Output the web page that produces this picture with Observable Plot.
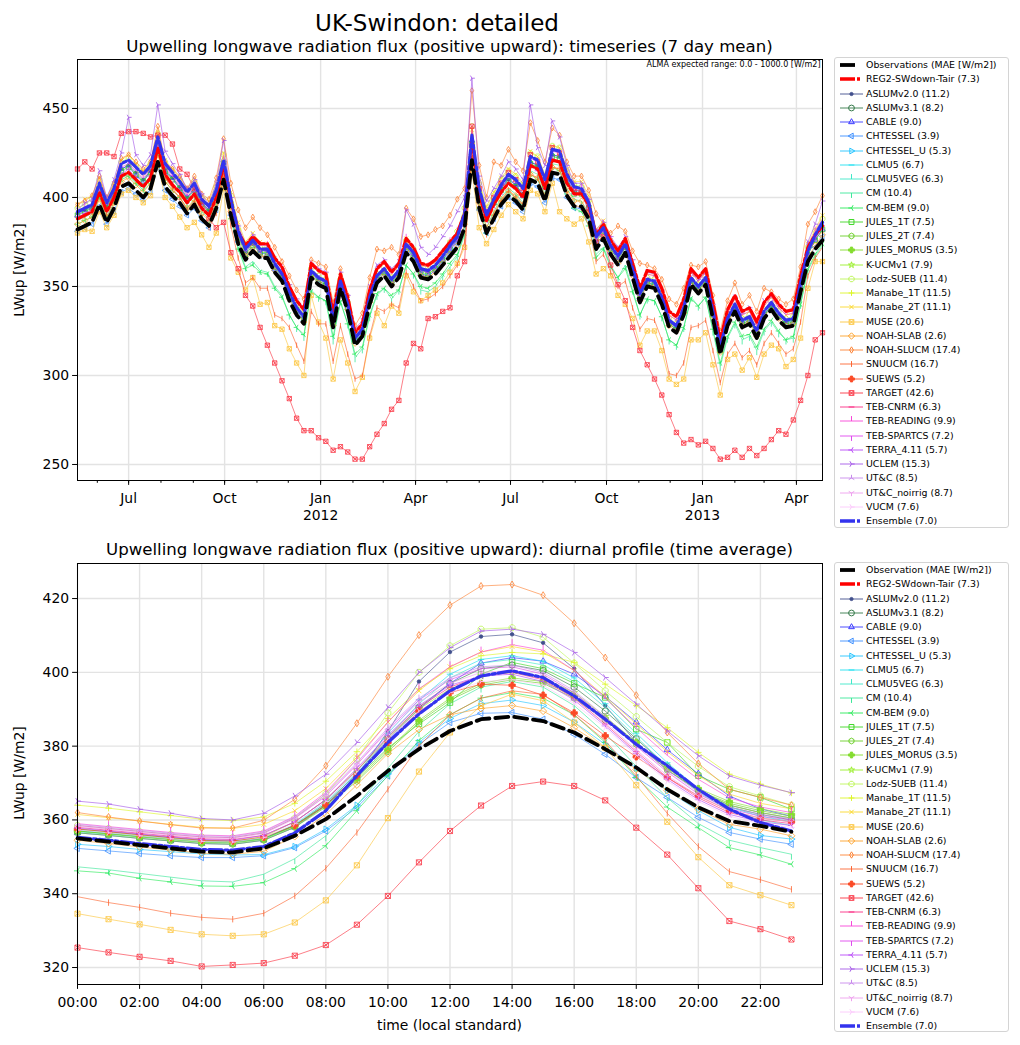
<!DOCTYPE html>
<html><head><meta charset="utf-8">
<script src="https://cdn.jsdelivr.net/npm/d3@7"></script>
<script src="https://cdn.jsdelivr.net/npm/@observablehq/plot@0.6"></script>
<style>
body{margin:0;background:#fff;font-family:"DejaVu Sans",sans-serif;}
#wrap{position:relative;width:1020px;height:1045px;overflow:hidden;background:#fff;}
.abs{position:absolute;white-space:nowrap;color:#000;}
.legend{position:absolute;border:1px solid #d4d4d4;border-radius:3px;background:#fff;box-sizing:border-box;}
.row{position:absolute;left:0;height:14px;width:172px;}
.row span{position:absolute;left:31px;top:0;font-size:9.4px;line-height:14px;white-space:nowrap;color:#000;}
.row svg{position:absolute;left:3px;top:0;}
</style></head><body><div id="wrap"></div>
<script>
// ---------------- names, MAE, styles ----------------
const modelNames = ["ASLUMv2.0","ASLUMv3.1","CABLE","CHTESSEL","CHTESSEL_U","CLMU5","CLMU5VEG","CM","CM-BEM","JULES_1T","JULES_2T","JULES_MORUS","K-UCMv1","Lodz-SUEB","Manabe_1T","Manabe_2T","MUSE","NOAH-SLAB","NOAH-SLUCM","SNUUCM","SUEWS","TARGET","TEB-CNRM","TEB-READING","TEB-SPARTCS","TERRA_4.11","UCLEM","UT&C","UT&C_noirrig","VUCM"];
const modelMAE = [11.2,8.2,9.0,3.9,5.3,6.7,6.3,10.4,9.0,7.5,7.4,3.5,7.9,11.4,11.5,11.1,20.6,2.6,17.4,16.7,5.2,42.6,6.3,9.9,7.2,5.7,15.3,8.5,8.7,7.6];
const modelColors = ["#414f8c","#357a4a","#3a3aff","#3d8fff","#24c4ff","#22e0f0","#3fe8c8","#3de89a","#2aea5a","#3ed625","#6ccf28","#84dc2e","#9aef2a","#bdf55a","#dcf52a","#fbd82b","#fcc640","#fda22a","#fd8335","#fc6633","#fb4a26","#fa3544","#fb2c84","#f845d8","#e048ee","#b94af8","#a55ae8","#c88aec","#eea0ee","#fcc8fc"];
const modelMarkers = ["point","circle","triUp","triLeft","triRight","hline","tickUp","tickDown","spokeLeft","square","hexagon","plusFilled","star","octagon","plus","xcross","boxX","diamond","thinDiamond","vline","plusFilled","boxX","hline","tickUp","tickDown","spokeLeft","spokeRight","spokeUp","spokeDown","spokeRight"];
const reg2Label = "REG2-SWdown-Tair", reg2MAE = 7.3, ensMAE = 7.0;

// ---------------- timeseries (7-day means), weekly from 2011-05-13 ----------------
const obsTS = [382,384,386,396,386,394,406,408,404,400,405,420,406,401,397,391,396,388,384,394,410,390,374,365,370,366,366,358,353,342,334,329,355,351,349,327,349,336,317,322,340,352,356,350,355,369,364,355,354,357,362,367,372,383,421,394,380,388,396,401,398,393,410,408,398,414,413,401,395,395,388,371,377,368,362,369,355,341,350,349,340,327,324,334,351,346,351,332,312,328,336,327,329,321,332,337,331,327,328,347,364,371,376];
const reg2TS = [388,390,392,403,392,400,412,414,410,406,411,428,413,407,403,397,402,394,390,400,418,398,381,373,378,374,374,366,361,350,342,337,363,359,357,335,357,344,324,329,348,360,364,358,363,377,372,363,362,365,370,375,380,391,432,402,387,396,403,408,405,400,418,416,405,421,420,408,402,402,396,379,385,376,370,377,363,349,359,358,349,336,333,343,360,355,360,341,320,337,345,336,338,330,341,346,340,336,337,356,372,379,384];
const ensTS = [392,394,396,408,397,405,419,421,417,413,418,434,419,414,409,403,408,399,395,404,421,399,381,371,376,371,371,363,357,347,338,333,359,355,353,331,353,340,321,326,344,356,360,354,359,374,369,360,359,362,367,373,378,391,435,405,390,399,407,413,410,405,423,421,410,427,426,413,406,405,397,378,383,373,367,374,360,346,354,353,344,331,328,338,355,350,355,336,316,332,340,331,333,325,336,341,335,331,332,352,370,379,386];
const tsTARGET = [416,420,416,425,425,423,436,437,437,436,434,435,435,430,416,413,405,398,388,383,386,369,360,345,339,327,317,307,297,287,276,269,269,265,263,258,260,257,253,253,260,267,273,281,286,307,318,315,332,333,336,338,356,364,440,405,392,400,408,414,410,405,424,420,410,428,425,412,405,403,392,375,378,362,351,342,327,314,306,298,289,278,268,262,264,261,263,259,253,254,258,254,259,255,259,264,269,267,275,286,300,320,324];
const tsMUSE = [380,382,381,392,383,390,402,404,400,397,401,418,400,395,389,383,386,379,372,380,405,366,358,348,355,340,341,328,326,315,307,300,345,330,321,298,320,307,291,299,321,335,328,339,335,356,347,342,345,348,352,358,363,372,415,383,374,382,390,396,392,388,404,402,392,408,392,388,385,388,375,357,360,356,345,340,332,317,325,325,314,298,295,298,320,320,324,306,289,309,312,303,310,299,312,317,315,305,309,321,349,364,364];
const tsNOAHSLUCM = [396,398,401,412,400,408,422,424,420,416,420,440,420,416,412,405,412,402,399,411,433,408,393,383,389,383,379,372,364,356,348,343,365,363,361,341,360,345,328,335,355,371,370,372,368,394,388,378,379,382,384,390,399,405,460,418,400,420,418,427,420,415,442,432,420,439,435,420,412,412,404,391,385,380,384,381,370,363,362,360,354,343,340,349,362,361,364,345,325,342,352,340,345,336,349,347,343,340,343,361,385,392,401];
const tsUCLEM = [393,397,399,415,400,410,425,445,424,418,424,452,426,419,413,405,410,402,396,408,432,400,384,374,379,374,373,365,360,351,343,338,363,360,358,336,358,345,326,331,350,362,365,360,364,393,385,372,368,372,378,384,392,400,467,412,398,405,412,420,416,410,452,428,418,443,434,418,408,408,399,382,386,378,372,378,365,350,358,357,348,336,332,342,358,354,358,340,320,336,344,335,338,330,342,345,340,336,337,354,375,385,398];
const tsSNUUCM = [388,390,392,404,391,399,412,415,411,406,410,428,411,405,400,393,398,389,383,391,412,384,366,352,355,349,349,334,332,327,317,308,336,329,329,308,328,312,298,300,322,338,336,340,338,358,350,342,343,346,350,356,362,375,425,392,379,390,398,404,400,396,413,411,400,417,416,403,396,394,384,364,368,358,350,353,338,326,332,331,320,301,300,307,327,328,331,314,296,312,318,310,314,306,318,324,318,312,315,330,356,366,372];
const tsCMBEM = [385,387,389,400,389,397,410,412,408,404,408,425,409,404,400,394,398,389,385,394,412,388,371,360,362,358,357,349,344,334,327,323,347,344,342,322,341,329,312,316,334,346,349,345,348,362,357,350,349,352,357,363,368,380,422,394,380,390,398,403,400,395,413,410,400,417,415,402,394,392,384,366,371,361,355,360,347,334,343,342,333,320,317,327,343,339,344,326,307,322,330,322,323,316,326,331,325,320,322,340,360,368,374];
const tsCHTESSEL = [381,383,385,395,385,392,403,405,402,399,403,417,404,399,395,390,394,387,383,393,408,390,375,366,371,367,367,359,354,344,336,331,356,352,350,329,350,338,319,324,342,353,357,352,356,370,365,357,356,359,364,369,374,384,418,393,380,388,395,400,397,392,408,406,397,411,410,400,394,394,388,372,378,369,363,370,357,343,352,351,342,330,327,336,353,348,353,335,315,331,338,330,332,324,334,339,334,330,331,349,366,372,378];
const tsJULES1T = [390,392,394,405,394,402,415,417,413,409,414,430,415,410,405,399,404,396,392,402,419,396,378,368,373,369,369,361,355,345,337,332,357,353,351,330,351,338,320,325,342,354,358,352,357,372,367,358,357,360,365,371,377,389,430,402,388,397,404,409,406,401,419,417,406,423,422,409,402,402,394,375,381,371,365,372,358,344,352,351,342,329,326,336,353,348,353,334,314,330,338,329,331,323,334,339,333,329,330,350,368,376,382];
const tsLodz = [394,396,399,410,399,407,420,422,418,414,419,436,420,415,410,404,409,400,396,406,424,401,382,372,377,372,372,364,358,348,340,335,360,356,354,333,354,341,322,327,345,357,361,355,360,376,371,362,361,364,369,375,381,394,440,408,393,402,410,415,412,407,425,423,412,429,428,415,407,406,398,378,384,374,368,375,361,347,355,354,345,332,329,339,356,351,356,337,317,333,341,332,334,326,337,342,336,332,333,353,372,381,388];
const tsTEBREADING = [392,394,396,407,396,404,417,419,415,411,416,432,417,412,407,401,406,398,394,404,421,399,382,372,377,373,373,365,360,349,341,336,362,358,356,334,356,343,324,329,347,359,363,357,362,377,371,362,361,364,369,375,381,393,435,405,391,399,407,412,409,404,422,420,409,426,425,412,405,405,397,379,385,376,369,376,362,348,357,356,347,334,331,341,358,353,358,339,319,335,343,334,336,328,339,344,338,334,335,355,373,381,388];
const tsASLUMv20 = [391,393,395,406,395,403,416,418,414,410,415,431,416,411,406,400,405,397,393,403,420,397,379,369,374,370,370,362,356,346,338,333,358,354,352,331,352,339,321,326,343,355,359,353,358,373,368,359,358,361,366,372,378,390,432,403,389,398,405,410,407,402,420,418,407,424,423,410,403,403,395,376,382,372,366,373,359,345,353,352,343,330,327,337,354,349,354,335,315,331,339,330,332,324,334,339,334,330,331,351,369,377,384];
const tsCABLE = [390,393,394,406,395,402,416,418,412,409,415,431,414,411,405,400,404,397,392,404,421,398,380,370,374,369,368,360,355,344,336,331,358,353,351,329,352,338,319,324,342,354,358,353,357,372,366,357,356,359,365,370,376,389,432,403,388,397,405,411,407,401,420,418,407,424,423,410,404,404,396,376,382,371,365,372,357,343,352,351,342,329,326,336,353,348,354,334,314,330,338,329,331,323,334,339,333,329,330,350,368,376,382];
const tsManabe2T = [396,399,401,411,400,408,421,424,419,415,420,437,421,416,411,405,410,401,398,408,425,403,386,375,380,375,374,366,360,350,341,336,362,358,356,334,356,343,324,329,347,359,363,357,362,377,371,362,361,364,369,375,381,394,438,409,395,403,411,416,413,408,426,423,413,429,428,416,409,409,401,382,387,376,370,376,362,348,357,356,347,334,331,341,358,353,358,339,319,335,343,334,336,328,339,344,338,334,335,355,374,382,390];
const tsNOAHSLAB = [385,387,389,399,389,397,409,411,407,403,408,424,409,404,400,394,399,391,387,397,413,392,376,367,372,367,367,359,354,343,335,330,356,352,350,328,350,337,318,323,341,353,357,351,356,370,365,356,355,358,363,368,373,385,424,397,383,391,399,404,401,396,413,411,401,417,416,404,398,398,391,373,379,370,363,370,356,342,351,350,341,328,325,335,352,347,352,333,313,329,337,328,330,322,333,338,332,328,329,348,366,373,379];
const tsTERRA = [389,391,393,404,393,401,413,416,411,407,412,429,413,408,404,398,403,395,391,401,418,396,379,370,375,370,370,362,357,346,338,333,359,355,353,331,353,340,321,326,344,356,360,354,359,373,368,359,358,361,366,371,376,388,430,401,387,395,403,408,405,400,418,415,405,422,420,408,402,402,394,376,381,372,366,373,359,345,354,353,344,331,328,338,355,350,355,336,316,332,340,331,333,325,336,341,335,331,332,351,369,377,383];
const tsCM = [387,389,391,401,391,399,411,413,409,405,410,426,411,406,402,396,401,392,388,397,414,390,372,361,364,359,358,350,345,334,327,322,348,344,342,320,342,329,310,315,333,345,349,343,348,362,357,348,347,350,356,361,367,379,424,397,383,392,400,405,402,397,415,413,402,419,418,405,399,398,390,368,372,362,355,362,348,334,343,342,333,320,317,327,344,339,344,325,305,321,329,320,322,314,325,330,324,320,321,340,359,367,373];

// ---------------- diurnal profile (hours 0..23) ----------------
const hours = [0,1,2,3,4,5,6,7,8,9,10,11,12,13,14,15,16,17,18,19,20,21,22,23];
const dObs = [355.0,354.1,353.2,352.3,351.4,351.2,352.3,355.7,360.2,366.5,373.3,379.2,384.1,387.3,388.0,386.8,383.7,379.2,374.2,368.3,363.4,359.7,358.4,356.8];
const dEns = [355.3,354.5,353.6,352.8,352.0,351.8,352.8,356.5,362.5,372.0,381.0,388.7,395.0,399.0,400.4,398.6,393.6,387.3,380.5,374.7,368.3,362.9,359.3,357.0];
const dASLUMv20 = [357.5,356.8,356.0,355.2,354.5,354.2,355.0,358.5,364.0,372.0,384.0,397.5,405.5,409.7,410.3,408.0,401.0,391.0,381.0,373.5,368.0,364.0,362.0,360.5];
const dASLUMv31 = [357.0,356.3,355.6,354.9,354.2,354.0,355.0,358.5,364.5,372.5,382.0,390.5,397.0,401.0,402.0,400.5,396.0,389.5,382.0,374.5,368.0,363.5,361.5,360.0];
const dCABLE = [356.5,355.8,355.0,354.3,353.6,353.4,354.5,358.0,364.0,372.0,381.5,390.0,397.0,402.5,404.0,403.0,399.5,393.5,386.5,379.0,372.5,366.5,363.0,361.0];
const dCHTESSEL = [352.3,351.6,350.9,350.3,349.8,349.8,350.3,352.5,357.0,363.4,371.9,380.5,386.4,388.9,389.1,387.3,383.2,377.8,371.5,366.1,360.7,356.6,354.8,353.4];
const dCHTESSELU = [353.4,352.8,352.0,351.4,350.8,350.5,350.6,352.8,357.5,364.0,372.5,381.0,387.5,391.5,392.5,391.0,386.5,380.5,374.0,368.0,362.5,358.0,355.8,354.8];
const dCLMU5 = [357.2,356.5,355.8,355.1,354.4,354.2,355.0,358.8,365.0,373.0,383.5,392.5,399.5,403.5,404.5,403.0,398.5,391.5,383.5,375.5,368.5,363.5,361.0,359.5];
const dCLMU5VEG = [356.8,356.1,355.4,354.7,354.0,353.8,354.8,358.5,364.5,372.5,382.5,391.5,398.5,402.5,403.5,402.0,397.5,390.5,382.5,374.5,367.5,362.5,360.0,358.5];
const dCM = [347.3,346.5,345.5,344.5,343.5,343.2,345.3,349.5,355.7,364.0,374.0,384.0,391.5,396.0,397.5,396.0,391.0,383.5,374.5,366.0,359.0,354.5,352.5,350.7];
const dCMBEM = [346.2,345.6,344.2,343.2,342.1,342.0,343.0,346.8,353.0,362.5,372.0,381.5,388.5,393.0,394.5,393.0,388.5,381.0,371.5,363.5,357.9,352.5,350.5,348.0];
const dJULES1T = [357.0,356.3,355.5,354.8,354.1,353.9,355.0,358.5,364.0,371.5,379.5,386.0,391.8,399.5,402.7,401.0,397.0,393.2,384.6,381.0,372.0,368.3,366.1,362.9];
const dJULES2T = [356.5,355.8,355.0,354.3,353.6,353.4,354.5,358.0,363.5,370.5,378.5,386.5,392.5,396.5,398.0,397.0,393.0,387.0,380.5,373.5,368.0,364.5,362.5,361.0];
const dJULESMORUS = [357.0,356.2,355.4,354.6,353.9,353.7,354.8,358.2,363.8,371.0,379.0,387.0,393.0,397.0,398.5,397.5,393.5,387.5,381.0,374.0,368.5,365.0,363.0,361.5];
const dKUCMv1 = [357.5,356.7,355.9,355.1,354.4,354.2,355.5,359.5,365.5,373.5,382.0,390.0,395.5,399.0,400.0,398.5,394.5,388.0,381.0,374.0,368.0,364.0,362.0,360.5];
const dLodz = [358.5,357.7,356.9,356.1,355.4,355.2,356.5,360.5,367.0,376.5,389.0,400.0,407.2,411.7,412.1,409.5,402.5,395.0,388.0,381.0,374.5,369.0,366.5,364.0];
const dManabe1T = [364.0,363.2,362.2,361.2,360.2,359.8,360.8,364.5,370.5,378.5,387.5,395.5,401.0,404.5,405.4,405.0,402.7,396.8,391.0,385.0,378.3,372.4,369.7,367.3];
const dManabe2T = [361.5,360.6,359.7,358.8,358.0,357.7,358.8,362.5,368.5,377.0,386.5,395.0,401.5,405.5,407.0,405.5,400.5,393.5,386.0,378.5,372.0,367.0,364.5,363.0];
const dMUSE = [334.6,333.1,331.7,330.2,329.0,328.6,329.0,332.2,338.2,347.7,360.5,373.1,383.7,390.9,394.1,392.3,386.4,379.6,369.4,359.5,349.9,342.3,339.6,336.9];
const dNOAHSLAB = [354.5,353.6,352.7,351.8,351.0,350.7,351.5,355.5,361.5,369.5,378.0,384.5,388.5,390.2,391.0,389.5,385.0,379.5,373.7,368.0,362.9,358.8,357.5,355.7];
const dNOAHSLUCM = [362.0,360.8,359.7,358.7,357.8,357.8,359.9,365.6,374.7,386.2,398.8,410.1,418.2,423.4,423.8,420.9,413.3,404.0,393.8,383.7,375.3,368.3,366.1,364.0];
const dSNUUCM = [339.2,337.6,336.3,334.7,333.6,333.1,334.7,339.4,346.9,356.6,368.3,380.0,388.5,393.0,395.0,394.0,388.5,381.5,371.9,361.8,352.8,346.0,343.8,341.2];
const dSUEWS = [357.5,356.8,356.0,355.2,354.5,354.3,355.3,358.5,364.0,372.0,381.0,389.5,394.5,396.8,396.5,393.8,389.0,382.8,377.1,371.5,366.5,362.5,360.5,359.5];
const dTARGET = [325.4,324.1,322.9,321.8,320.3,320.7,321.2,323.2,326.1,331.6,339.4,348.5,357.0,363.9,369.2,370.4,369.2,365.3,357.9,350.6,341.5,332.6,330.4,327.6];
const dTEBCNRM = [358.0,357.2,356.4,355.6,354.9,354.7,355.8,359.5,365.5,373.5,382.5,390.5,396.0,399.0,400.0,398.0,393.0,386.0,378.5,371.5,366.0,362.0,360.0,359.0];
const dTEBREADING = [359.0,358.2,357.4,356.6,355.9,355.7,357.0,361.0,367.5,376.5,386.5,395.5,401.5,405.5,407.5,406.0,400.5,393.0,385.0,377.5,371.0,366.0,363.5,362.0];
const dTEBSPARTCS = [358.5,357.7,356.9,356.1,355.4,355.2,356.5,360.5,366.5,375.0,384.5,392.5,398.0,401.0,401.5,399.5,394.5,387.5,380.0,373.0,367.0,363.0,361.0,360.0];
const dTERRA = [357.8,357.0,356.2,355.4,354.7,354.5,355.8,359.5,365.5,374.0,383.0,391.0,396.5,399.0,399.5,397.5,392.5,385.5,378.0,371.0,365.5,361.5,359.5,358.5];
const dUCLEM = [365.1,364.3,362.9,361.8,360.4,360.0,361.8,366.5,372.4,381.0,390.5,400.0,406.7,411.2,411.7,410.3,405.4,398.6,391.4,384.1,377.4,371.9,369.4,367.4];
const dUTC = [358.8,358.0,357.2,356.4,355.7,355.5,356.8,360.8,367.0,375.5,385.0,393.0,398.5,401.5,402.0,400.0,395.0,388.0,380.5,373.5,367.5,363.5,361.5,360.3];
const dUTCnoirrig = [358.3,357.5,356.7,355.9,355.2,355.0,356.3,360.3,366.5,375.0,384.0,392.0,397.0,400.0,400.5,398.5,393.5,386.5,379.0,372.0,366.5,362.5,360.5,359.5];
const dVUCM = [357.3,356.5,355.7,354.9,354.2,354.0,355.2,359.0,365.0,373.0,382.0,389.5,394.5,397.5,398.0,396.5,391.5,385.0,377.5,370.5,365.0,361.0,359.0,358.0];

// ---------------- tick labels ----------------
const monthTickLabels = ["Jul","Oct","Jan","Apr","Jul","Oct","Jan","Apr"];
const yearTickLabels = ["2012","2013"];
const yTicksTop = [250,300,350,400,450];
const yTicksBottom = [320,340,360,380,400,420];
const hourTicks = [0,2,4,6,8,10,12,14,16,18,20,22];

// ---------------- lookups built from the arrays ----------------
const topModelData = {"ASLUMv2.0":tsASLUMv20,"CABLE":tsCABLE,"CHTESSEL":tsCHTESSEL,"CM":tsCM,"CM-BEM":tsCMBEM,"JULES_1T":tsJULES1T,"Lodz-SUEB":tsLodz,"Manabe_2T":tsManabe2T,"MUSE":tsMUSE,"NOAH-SLAB":tsNOAHSLAB,"NOAH-SLUCM":tsNOAHSLUCM,"SNUUCM":tsSNUUCM,"TARGET":tsTARGET,"TEB-READING":tsTEBREADING,"TERRA_4.11":tsTERRA,"UCLEM":tsUCLEM};
const diurnalModelData = [dASLUMv20,dASLUMv31,dCABLE,dCHTESSEL,dCHTESSELU,dCLMU5,dCLMU5VEG,dCM,dCMBEM,dJULES1T,dJULES2T,dJULESMORUS,dKUCMv1,dLodz,dManabe1T,dManabe2T,dMUSE,dNOAHSLAB,dNOAHSLUCM,dSNUUCM,dSUEWS,dTARGET,dTEBCNRM,dTEBREADING,dTEBSPARTCS,dTERRA,dUCLEM,dUTC,dUTCnoirrig,dVUCM];

const DAY = 86400000, START = Date.UTC(2011,4,13);
const weekDates = obsTS.map((_, i) => new Date(START + 7*i*DAY));
const majorTicks = [[2011,6],[2011,9],[2012,0],[2012,3],[2012,6],[2012,9],[2013,0],[2013,3]].map(([y,m]) => new Date(Date.UTC(y,m,1)));
const yearTicks = [new Date(Date.UTC(2012,0,1)), new Date(Date.UTC(2013,0,1))];
const minorTicks = [];
for (let y = 2011, m = 5; y < 2013 || m <= 3; ) { minorTicks.push(new Date(Date.UTC(y,m,1))); m++; if (m > 11) { m = 0; y++; } }

// ---------------- marker symbols ----------------
function mk(fn){ return {draw(c, size){ fn(c, Math.sqrt(size/Math.PI)); }}; }
function poly(c, n, r, rot){ for (let k=0;k<n;k++){ const a=rot+2*Math.PI*k/n, x=r*Math.cos(a), y=r*Math.sin(a); if(k===0) c.moveTo(x,y); else c.lineTo(x,y);} c.closePath(); }
function spokes(c, r, rot){ for (let k=0;k<3;k++){ const a=rot+2*Math.PI*k/3; c.moveTo(0,0); c.lineTo(r*Math.cos(a), r*Math.sin(a)); } }
const SYM = {
  point: mk((c,r)=>{const q=r*0.55; c.moveTo(q,0); c.arc(0,0,q,0,2*Math.PI);}),
  circle: mk((c,r)=>{c.moveTo(r,0); c.arc(0,0,r,0,2*Math.PI);}),
  triUp: mk((c,r)=>poly(c,3,r*1.15,-Math.PI/2)),
  triLeft: mk((c,r)=>poly(c,3,r*1.15,Math.PI)),
  triRight: mk((c,r)=>poly(c,3,r*1.15,0)),
  hline: mk((c,r)=>{c.moveTo(-r,0); c.lineTo(r,0);}),
  vline: mk((c,r)=>{c.moveTo(0,-r); c.lineTo(0,r);}),
  tickUp: mk((c,r)=>{c.moveTo(0,0); c.lineTo(0,-1.7*r);}),
  tickDown: mk((c,r)=>{c.moveTo(0,0); c.lineTo(0,1.7*r);}),
  square: mk((c,r)=>{const s=r*0.85; c.rect(-s,-s,2*s,2*s);}),
  hexagon: mk((c,r)=>poly(c,6,r,-Math.PI/2)),
  plusFilled: mk((c,r)=>{const a=r, b=r*0.38; c.moveTo(-b,-a);c.lineTo(b,-a);c.lineTo(b,-b);c.lineTo(a,-b);c.lineTo(a,b);c.lineTo(b,b);c.lineTo(b,a);c.lineTo(-b,a);c.lineTo(-b,b);c.lineTo(-a,b);c.lineTo(-a,-b);c.lineTo(-b,-b);c.closePath();}),
  star: mk((c,r)=>{for(let k=0;k<10;k++){const a=-Math.PI/2+Math.PI*k/5, rr=k%2?r*0.42:r*1.1, x=rr*Math.cos(a), y=rr*Math.sin(a); if(k) c.lineTo(x,y); else c.moveTo(x,y);} c.closePath();}),
  octagon: mk((c,r)=>poly(c,8,r,Math.PI/8)),
  plus: mk((c,r)=>{c.moveTo(-r,0);c.lineTo(r,0);c.moveTo(0,-r);c.lineTo(0,r);}),
  xcross: mk((c,r)=>{const q=r*0.75; c.moveTo(-q,-q);c.lineTo(q,q);c.moveTo(-q,q);c.lineTo(q,-q);}),
  boxX: mk((c,r)=>{const s=r*0.8; c.rect(-s,-s,2*s,2*s); c.moveTo(-s,-s);c.lineTo(s,s);c.moveTo(-s,s);c.lineTo(s,-s);}),
  diamond: mk((c,r)=>{const s=r*1.1; c.moveTo(0,-s);c.lineTo(s,0);c.lineTo(0,s);c.lineTo(-s,0);c.closePath();}),
  thinDiamond: mk((c,r)=>{const s=r*1.1; c.moveTo(0,-s);c.lineTo(s*0.6,0);c.lineTo(0,s);c.lineTo(-s*0.6,0);c.closePath();}),
  spokeLeft: mk((c,r)=>spokes(c,r*1.1,Math.PI)),
  spokeRight: mk((c,r)=>spokes(c,r*1.1,0)),
  spokeUp: mk((c,r)=>spokes(c,r*1.1,-Math.PI/2)),
  spokeDown: mk((c,r)=>spokes(c,r*1.1,Math.PI/2))
};
const FILLED = new Set(["point","plusFilled"]);

const OBS_COLOR = "#000000", REG2_COLOR = "#ff0000", ENS_COLOR = "#3333ee";
const OBS_DASH = "13,6", DD_DASH = "13,3,3,3";

function modelMarks(rows, xk, color, marker, r){
  return [
    Plot.line(rows, {x: xk, y: "v", stroke: color, strokeWidth: 0.75, strokeOpacity: 0.85}),
    Plot.dot(rows, {x: xk, y: "v", stroke: color, fill: FILLED.has(marker) ? color : "none", symbol: SYM[marker], r, strokeWidth: 0.85, strokeOpacity: 0.95})
  ];
}
const grid = {stroke: "#e3e3e3", strokeOpacity: 1, strokeWidth: 1.4};
const plotStyle = {fontFamily: "DejaVu Sans, sans-serif", fontSize: "13.9px", color: "#000", background: "transparent", overflow: "visible"};

// ---------------- top panel ----------------
const topRows = arr => arr.map((v, i) => ({d: weekDates[i], v}));
const topMarks = [
  Plot.gridY({ticks: yTicksTop, ...grid}),
  Plot.gridX({ticks: majorTicks, ...grid})
];
modelNames.forEach((name, k) => {
  if (topModelData[name]) topMarks.push(...modelMarks(topRows(topModelData[name]), "d", modelColors[k], modelMarkers[k], 2.7));
});
topMarks.push(
  Plot.line(topRows(reg2TS), {x: "d", y: "v", stroke: REG2_COLOR, strokeWidth: 3.2, strokeDasharray: DD_DASH}),
  Plot.line(topRows(ensTS), {x: "d", y: "v", stroke: ENS_COLOR, strokeWidth: 3.2, strokeDasharray: DD_DASH}),
  Plot.line(topRows(obsTS), {x: "d", y: "v", stroke: OBS_COLOR, strokeWidth: 3.8, strokeDasharray: OBS_DASH}),
  Plot.frame({stroke: "#000", strokeWidth: 1}),
  Plot.axisY({ticks: yTicksTop, tickSize: 4.9, tickPadding: 3.5, label: null}),
  Plot.axisX({ticks: minorTicks, tickSize: 2.8, tickFormat: () => "", label: null}),
  Plot.axisX({ticks: majorTicks, tickSize: 4.9, tickPadding: 7.5, label: null,
    tickFormat: d => monthTickLabels[majorTicks.findIndex(t => +t === +d)]}),
  Plot.axisX({ticks: yearTicks, tickSize: 0, tickPadding: 29.5, label: null,
    tickFormat: d => yearTickLabels[yearTicks.findIndex(t => +t === +d)]}),
  Plot.text(["ALMA expected range: 0.0 - 1000.0 [W/m2]"], {frameAnchor: "top-right", textAnchor: "end", lineAnchor: "top", dx: -2, dy: 2, fontSize: 8})
);
const topPlot = Plot.plot({
  width: 830, height: 473, marginLeft: 77, marginRight: 8, marginTop: 7, marginBottom: 45,
  x: {type: "utc", domain: [weekDates[0], weekDates[weekDates.length-1]]},
  y: {domain: [241, 477.5]},
  style: plotStyle,
  marks: topMarks
});

// ---------------- bottom panel ----------------
const dRows = arr => arr.map((v, i) => ({h: hours[i], v}));
const botMarks = [
  Plot.gridY({ticks: yTicksBottom, ...grid}),
  Plot.gridX({ticks: hourTicks, ...grid})
];
modelNames.forEach((name, k) => botMarks.push(...modelMarks(dRows(diurnalModelData[k]), "h", modelColors[k], modelMarkers[k], 3.2)));
botMarks.push(
  Plot.line(dRows(dEns), {x: "h", y: "v", stroke: ENS_COLOR, strokeWidth: 3.2, strokeDasharray: DD_DASH}),
  Plot.line(dRows(dObs), {x: "h", y: "v", stroke: OBS_COLOR, strokeWidth: 3.8, strokeDasharray: OBS_DASH}),
  Plot.frame({stroke: "#000", strokeWidth: 1}),
  Plot.axisY({ticks: yTicksBottom, tickSize: 4.9, tickPadding: 3.5, label: null}),
  Plot.axisX({ticks: hourTicks, tickSize: 4.9, tickPadding: 7.5, label: null, tickFormat: h => String(h).padStart(2, "0") + ":00"})
);
const botPlot = Plot.plot({
  width: 830, height: 483, marginLeft: 77, marginRight: 8, marginTop: 7, marginBottom: 55,
  x: {domain: [0, 24]},
  y: {domain: [315.4, 429.5]},
  style: plotStyle,
  marks: botMarks
});

// ---------------- page assembly ----------------
const wrap = document.getElementById("wrap");
function place(el, left, top){ const d = document.createElement("div"); d.style.position = "absolute"; d.style.left = left + "px"; d.style.top = top + "px"; d.appendChild(el); wrap.appendChild(d); return d; }
function text(str, css){ const d = document.createElement("div"); d.className = "abs"; d.textContent = str; Object.assign(d.style, css); wrap.appendChild(d); return d; }
place(topPlot, 0, 52);
place(botPlot, 0, 556);
text("UK-Swindon: detailed", {left: "0px", width: "874px", textAlign: "center", top: "11px", fontSize: "23px", lineHeight: "25px"});
text("Upwelling longwave radiation flux (positive upward): timeseries (7 day mean)", {left: "0px", width: "899px", textAlign: "center", top: "37px", fontSize: "16.6px", lineHeight: "19px"});
text("Upwelling longwave radiation flux (positive upward): diurnal profile (time average)", {left: "0px", width: "899px", textAlign: "center", top: "540px", fontSize: "16.6px", lineHeight: "19px"});
text("time (local standard)", {left: "0px", width: "899px", textAlign: "center", top: "1016px", fontSize: "13.9px", lineHeight: "18px"});
for (const cy of [270, 773]) {
  text("LWup [W/m2]", {left: "19px", top: cy + "px", fontSize: "13.9px", lineHeight: "16px", transform: "translate(-50%,-50%) rotate(-90deg)"});
}

function legend(top, height, firstLabel){
  const box = document.createElement("div");
  box.className = "legend";
  Object.assign(box.style, {left: "834px", top: top + "px", width: "175px", height: height + "px"});
  const entries = [{label: firstLabel, color: OBS_COLOR, kind: "obs"}, {label: `${reg2Label} (${reg2MAE.toFixed(1)})`, color: REG2_COLOR, kind: "dd"}];
  modelNames.forEach((n, k) => entries.push({label: `${n} (${modelMAE[k].toFixed(1)})`, color: modelColors[k], kind: modelMarkers[k]}));
  entries.push({label: `Ensemble (${ensMAE.toFixed(1)})`, color: ENS_COLOR, kind: "dd"});
  entries.forEach((e, i) => {
    const row = document.createElement("div");
    row.className = "row";
    row.style.top = (i * 14.25) + "px";
    let svg = `<svg width="28" height="14" viewBox="0 0 28 14">`;
    if (e.kind === "obs") svg += `<line x1="2" y1="7" x2="25" y2="7" stroke="${e.color}" stroke-width="3.8" stroke-dasharray="15,9"/>`;
    else if (e.kind === "dd") svg += `<line x1="2" y1="7" x2="25" y2="7" stroke="${e.color}" stroke-width="3.4" stroke-dasharray="15,2,3,6"/>`;
    else {
      const p = d3.path(); SYM[e.kind].draw(p, 2.9*2.9*Math.PI);
      const fill = FILLED.has(e.kind) ? e.color : "none";
      svg += `<line x1="2" y1="7" x2="25" y2="7" stroke="${e.color}" stroke-width="0.9"/>`;
      svg += `<path transform="translate(13.5,7)" d="${p.toString()}" fill="${fill}" stroke="${e.color}" stroke-width="1"/>`;
    }
    svg += `</svg>`;
    row.innerHTML = svg;
    const sp = document.createElement("span"); sp.textContent = e.label; row.appendChild(sp);
    box.appendChild(row);
  });
  wrap.appendChild(box);
}
legend(57, 471, "Observations (MAE [W/m2])");
legend(562, 470, "Observation (MAE [W/m2])");
</script></body></html>
